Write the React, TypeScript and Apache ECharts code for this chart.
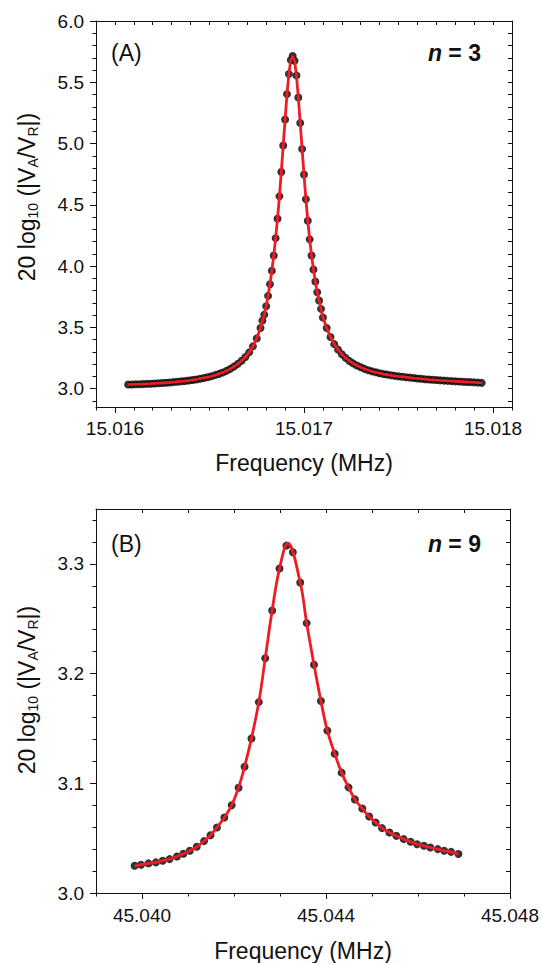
import React, { useEffect, useRef } from "react";
import * as echarts from "echarts";

// ---------- Panel A (n = 3) ----------
const freqA = [
  15.01607, 15.01609, 15.01611, 15.01613, 15.01615, 15.01617, 15.01619, 15.01621, 15.01623, 15.01625,
  15.01627, 15.01629, 15.01631, 15.01633, 15.01635, 15.01637, 15.01639, 15.01641, 15.01643, 15.01645,
  15.01647, 15.01649, 15.01651, 15.01653, 15.01655, 15.01657, 15.01659, 15.01661, 15.01663, 15.01665,
  15.01667, 15.01669, 15.01671, 15.01673, 15.01675, 15.01677,
  15.01678, 15.01679, 15.0168, 15.01681, 15.01682, 15.01683, 15.01684, 15.01685, 15.01686, 15.01687,
  15.01688, 15.01689, 15.0169, 15.01691, 15.01692, 15.01693,
  15.01694,
  15.01695, 15.01696, 15.01697, 15.01698, 15.01699, 15.017, 15.01701, 15.01702, 15.01703, 15.01704,
  15.01705, 15.01706, 15.01707, 15.01708, 15.01709, 15.0171,
  15.01712, 15.01714, 15.01716, 15.01718, 15.0172, 15.01722, 15.01724, 15.01726, 15.01728, 15.0173,
  15.01732, 15.01734, 15.01736, 15.01738, 15.0174, 15.01742, 15.01744, 15.01746, 15.01748, 15.0175,
  15.01752, 15.01754, 15.01756, 15.01758, 15.0176, 15.01762, 15.01764, 15.01766, 15.01768, 15.0177,
  15.01772, 15.01774, 15.01776, 15.01778, 15.0178, 15.01782, 15.01784, 15.01786, 15.01788, 15.0179,
  15.01792, 15.01794,
];
const valA = [
  3.033, 3.034, 3.035, 3.036, 3.037, 3.039, 3.040, 3.042, 3.044, 3.046,
  3.048, 3.050, 3.053, 3.056, 3.059, 3.062, 3.066, 3.071, 3.075, 3.081,
  3.087, 3.093, 3.101, 3.110, 3.120, 3.132, 3.145, 3.161, 3.180, 3.202,
  3.228, 3.258, 3.296, 3.345, 3.410, 3.495,
  3.555, 3.604, 3.672, 3.757, 3.852, 3.962, 4.087, 4.228, 4.387, 4.569,
  4.768, 4.984, 5.196, 5.403, 5.567, 5.681,
  5.714,
  5.675, 5.556, 5.376, 5.168, 4.956, 4.747, 4.545, 4.370, 4.218, 4.087,
  3.972, 3.874, 3.787, 3.719, 3.651, 3.580,
  3.494, 3.421, 3.363, 3.318, 3.281, 3.251, 3.226, 3.206, 3.189, 3.174,
  3.161, 3.150, 3.141, 3.133, 3.126, 3.119, 3.114, 3.109, 3.104, 3.100,
  3.097, 3.093, 3.090, 3.086, 3.083, 3.080, 3.077, 3.074, 3.072, 3.070,
  3.067, 3.065, 3.063, 3.061, 3.059, 3.058, 3.056, 3.054, 3.053, 3.051,
  3.049, 3.047,
];
const xLabelsA = [15.016, 15.017, 15.018];
const xMinorA = [
  15.0159, 15.016, 15.0161, 15.0162, 15.0163, 15.0164, 15.0165, 15.0166, 15.0167, 15.0168, 15.0169,
  15.017, 15.0171, 15.0172, 15.0173, 15.0174, 15.0175, 15.0176, 15.0177, 15.0178, 15.0179, 15.018, 15.0181,
];
const yLabelsA = [3.0, 3.5, 4.0, 4.5, 5.0, 5.5, 6.0];
const yMinorA = [
  2.9, 3.0, 3.1, 3.2, 3.3, 3.4, 3.5, 3.6, 3.7, 3.8, 3.9, 4.0, 4.1, 4.2, 4.3, 4.4,
  4.5, 4.6, 4.7, 4.8, 4.9, 5.0, 5.1, 5.2, 5.3, 5.4, 5.5, 5.6, 5.7, 5.8, 5.9, 6.0,
];

// ---------- Panel B (n = 9) ----------
const freqB = [
  45.03984, 45.03998, 45.04014, 45.0403, 45.04045, 45.0406, 45.04076, 45.0409, 45.04104, 45.04119,
  45.04135, 45.04149, 45.04163, 45.04179, 45.04195, 45.0421, 45.04223, 45.04238, 45.04254, 45.04268,
  45.04283, 45.04299, 45.04314, 45.04328, 45.04344, 45.04358, 45.04374, 45.04389, 45.04403, 45.04419,
  45.04434, 45.04449, 45.04463, 45.04479, 45.04494, 45.04508, 45.04522, 45.04538, 45.04553, 45.04569,
  45.04584, 45.04598, 45.04613, 45.04627, 45.04643, 45.04657, 45.04672, 45.04688,
];
const valB = [
  3.0248, 3.0258, 3.027, 3.0279, 3.0294, 3.0309, 3.0333, 3.0357, 3.0385, 3.0421,
  3.0473, 3.0527, 3.0597, 3.0688, 3.08, 3.096, 3.115, 3.1409, 3.174, 3.214,
  3.2575, 3.2957, 3.3166, 3.3106, 3.283, 3.246, 3.208, 3.175, 3.148, 3.127,
  3.1097, 3.0963, 3.0853, 3.077, 3.0697, 3.0642, 3.0591, 3.0552, 3.0521, 3.0491,
  3.0467, 3.0445, 3.043, 3.0415, 3.04, 3.0385, 3.0375, 3.0355,
];
const fitFreqB = [
  45.03984, 45.03998, 45.04014, 45.0403, 45.04045, 45.0406, 45.04076, 45.0409, 45.04104, 45.04119,
  45.04135, 45.04149, 45.04163, 45.04179, 45.04195, 45.0421, 45.04223, 45.04238, 45.04254, 45.04268,
  45.04283, 45.04299, 45.04317, 45.04344, 45.04358, 45.04374, 45.04389, 45.04403, 45.04419,
  45.04434, 45.04449, 45.04463, 45.04479, 45.04494, 45.04508, 45.04522, 45.04538, 45.04553, 45.04569,
  45.04584, 45.04598, 45.04613, 45.04627, 45.04643, 45.04657, 45.04672, 45.04688,
];
const fitValB = [
  3.0248, 3.0258, 3.027, 3.0279, 3.0294, 3.0309, 3.0333, 3.0357, 3.0385, 3.0421,
  3.0473, 3.0527, 3.0597, 3.0688, 3.08, 3.096, 3.115, 3.1409, 3.174, 3.214,
  3.2575, 3.2957, 3.3188, 3.283, 3.246, 3.208, 3.175, 3.148, 3.127,
  3.1097, 3.0963, 3.0853, 3.077, 3.0697, 3.0642, 3.0591, 3.0552, 3.0521, 3.0491,
  3.0467, 3.0445, 3.043, 3.0415, 3.04, 3.0385, 3.0375, 3.0355,
];
const xLabelsB = [45.04, 45.044, 45.048];
const xMinorB = [45.039, 45.04, 45.041, 45.042, 45.043, 45.044, 45.045, 45.046, 45.047, 45.048];
const yLabelsB = [3.0, 3.1, 3.2, 3.3];
const yMinorB = [
  3.0, 3.02, 3.04, 3.06, 3.08, 3.1, 3.12, 3.14, 3.16, 3.18, 3.2, 3.22, 3.24, 3.26, 3.28, 3.3, 3.32, 3.34,
];

const FONT = "'Liberation Sans', Arial, Helvetica, sans-serif";
const INK = "#111";
const RED = "#ee1c25";

const zip = (xs: number[], ys: number[]) => xs.map((x, i) => [x, ys[i]]);

function xAxes(grid: number, min: number, max: number, labels: number[], minor: number[], gap: number, margin: number, dec: number) {
  return [
    {
      gridIndex: grid, type: "value", position: "bottom", min, max,
      axisLine: { show: true, lineStyle: { color: INK, width: 1 } },
      splitLine: { show: false },
      axisTick: { show: true, inside: false, length: 6, customValues: labels, lineStyle: { color: INK } },
      axisLabel: {
        show: true, customValues: labels, margin, color: INK, fontSize: 19, fontFamily: FONT,
        formatter: (v: number) => v.toFixed(dec),
      },
      name: "Frequency (MHz)", nameLocation: "middle", nameGap: gap,
      nameTextStyle: { color: INK, fontSize: 23, fontFamily: FONT },
    },
    {
      gridIndex: grid, type: "value", position: "bottom", min, max,
      axisLine: { show: false },
      splitLine: { show: false },
      axisTick: { show: true, inside: false, length: 3.5, customValues: minor, lineStyle: { color: INK } },
      axisLabel: { show: false },
    },
    {
      gridIndex: grid, type: "value", position: "top", min, max,
      axisLine: { show: true, lineStyle: { color: INK, width: 1 } },
      splitLine: { show: false },
      axisTick: { show: true, inside: true, length: 4, customValues: minor, lineStyle: { color: INK } },
      axisLabel: { show: false },
    },
  ];
}

function yAxes(grid: number, min: number, max: number, labels: number[], minor: number[]) {
  return [
    {
      gridIndex: grid, type: "value", position: "left", min, max,
      axisLine: { show: true, lineStyle: { color: INK, width: 1 } },
      splitLine: { show: false },
      axisTick: { show: true, inside: false, length: 6, customValues: labels, lineStyle: { color: INK } },
      axisLabel: {
        show: true, customValues: labels, margin: 12, color: INK, fontSize: 19, fontFamily: FONT,
        formatter: (v: number) => v.toFixed(1),
      },
    },
    {
      gridIndex: grid, type: "value", position: "left", min, max,
      axisLine: { show: false },
      splitLine: { show: false },
      axisTick: { show: true, inside: false, length: 3.5, customValues: minor, lineStyle: { color: INK } },
      axisLabel: { show: false },
    },
    {
      gridIndex: grid, type: "value", position: "right", min, max,
      axisLine: { show: true, lineStyle: { color: INK, width: 1 } },
      splitLine: { show: false },
      axisTick: { show: true, inside: true, length: 4, customValues: minor, lineStyle: { color: INK } },
      axisLabel: { show: false },
    },
  ];
}

function yTitle(cy: number) {
  return {
    type: "text", x: 27, y: cy, rotation: Math.PI / 2,
    style: {
      text: "20 log{s|10} (|V{s|A}/V{s|R}|)",
      fill: INK, fontSize: 23, fontFamily: FONT, align: "center", verticalAlign: "middle",
      rich: { s: { fontSize: 14, fontFamily: FONT, fill: INK, padding: [12, 0, 0, 0] } },
    },
  };
}

function panelTexts(tag: string, n: string, y: number) {
  return [
    {
      type: "text", x: 111, y,
      style: { text: tag, fill: INK, fontSize: 23, fontFamily: FONT, verticalAlign: "middle", align: "left" },
    },
    {
      type: "text", x: 481, y,
      style: {
        text: "{i|n}{b| = " + n + "}", align: "right", verticalAlign: "middle",
        rich: {
          i: { fontSize: 23, fontWeight: "bold", fontStyle: "italic", fontFamily: FONT, fill: INK },
          b: { fontSize: 23, fontWeight: "bold", fontFamily: FONT, fill: INK },
        },
      },
    },
  ];
}

export default function App() {
  const ref = useRef<HTMLDivElement>(null);
  useEffect(() => {
    if (!ref.current) return;
    const chart = echarts.init(ref.current, null, { renderer: "svg" });
    const option: any = {
      animation: false,
      backgroundColor: "#fff",
      grid: [
        { left: 96, top: 21, width: 416, height: 386 },
        { left: 96, top: 509, width: 416, height: 385 },
      ],
      xAxis: [
        ...xAxes(0, 15.0159, 15.0181, xLabelsA, xMinorA, 44, 12, 3),
        ...xAxes(1, 45.039, 45.048, xLabelsB, xMinorB, 46, 13, 3),
      ],
      yAxis: [
        ...yAxes(0, 2.85, 6.0, yLabelsA, yMinorA),
        ...yAxes(1, 3.0, 3.35, yLabelsB, yMinorB),
      ],
      graphic: [
        yTitle(197), yTitle(690),
        ...panelTexts("(A)", "3", 53), ...panelTexts("(B)", "9", 544),
      ],
      series: [
        {
          type: "scatter", xAxisIndex: 0, yAxisIndex: 0, data: zip(freqA, valA),
          symbolSize: 8, itemStyle: { color: "#000" }, z: 2,
        },
        {
          type: "line", xAxisIndex: 0, yAxisIndex: 0, data: zip(freqA, valA),
          showSymbol: false, lineStyle: { color: RED, width: 2.8 }, z: 3,
        },
        {
          type: "scatter", xAxisIndex: 3, yAxisIndex: 3, data: zip(freqB, valB),
          symbolSize: 8, itemStyle: { color: "#000" }, z: 2,
        },
        {
          type: "line", xAxisIndex: 3, yAxisIndex: 3, data: zip(fitFreqB, fitValB),
          showSymbol: false, smooth: 0.4, lineStyle: { color: RED, width: 2.8 }, z: 3,
        },
      ],
    };
    chart.setOption(option);
    return () => chart.dispose();
  }, []);
  return (
    <div
      ref={ref}
      style={{ position: "fixed", left: 0, top: 0, width: 542, height: 963, background: "#fff" }}
    />
  );
}
